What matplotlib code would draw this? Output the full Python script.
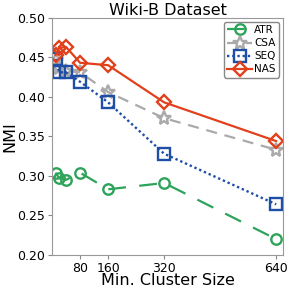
import matplotlib
matplotlib.use("Agg")
import matplotlib.pyplot as plt

# minimum cluster size (x) and NMI per method
sizes = [10, 20, 40, 80, 160, 320, 640]
atr = [0.304, 0.297, 0.295, 0.304, 0.283, 0.291, 0.220]
csa = [0.446, 0.436, 0.433, 0.431, 0.406, 0.373, 0.333]
seq = [0.448, 0.431, 0.431, 0.419, 0.393, 0.328, 0.264]
nas = [0.453, 0.462, 0.463, 0.443, 0.440, 0.393, 0.344]

x_ticks = [80, 160, 320, 640]
y_ticks = [0.20, 0.25, 0.30, 0.35, 0.40, 0.45, 0.50]

fig = plt.figure(figsize=(2.91, 2.91), dpi=100)
ax = fig.add_axes([0.179, 0.124, 0.794, 0.815])

lw = 1.6
ax.plot(sizes, atr, color='#2ea35a', ls=(0, (8, 6)), lw=lw, marker='o', ms=7.5,
        mfc='none', mew=1.7, label='ATR')
ax.plot(sizes, csa, color='#aaaaaa', ls=(0, (5, 3.5)), lw=lw, marker='*', ms=10,
        mfc='none', mew=1.7, label='CSA')
ax.plot(sizes, seq, color='#1f4ea6', ls=(0, (1, 1.2)), lw=1.7, marker='s', ms=8,
        mfc='none', mew=1.7, label='SEQ')
ax.plot(sizes, nas, color='#e2401b', ls='-', lw=lw, marker='D', ms=7.5,
        mfc='none', mew=1.7, label='NAS')

ax.set_xlim(0, 660)
ax.set_ylim(0.20, 0.50)
ax.set_xticks(x_ticks)
ax.set_yticks(y_ticks)
ax.set_yticklabels(['%.2f' % v for v in y_ticks])
ax.tick_params(labelsize=9, color='#888888', length=3, width=0.8, pad=2)

for s in ax.spines.values():
    s.set_color('#999999')
    s.set_linewidth(0.8)

ax.set_title('Wiki-B Dataset', fontsize=11.5, pad=2)
ax.set_xlabel('Min. Cluster Size', fontsize=11.5, labelpad=-1)
ax.set_ylabel('NMI', fontsize=11.5, labelpad=0)

ax.legend(loc='upper right', fontsize=7.5, handlelength=2.4, handletextpad=0.2,
          borderpad=0.3, labelspacing=0.3, borderaxespad=0.4, framealpha=1,
          edgecolor='#888888', fancybox=True)

fig.savefig('out.png', dpi=100)
